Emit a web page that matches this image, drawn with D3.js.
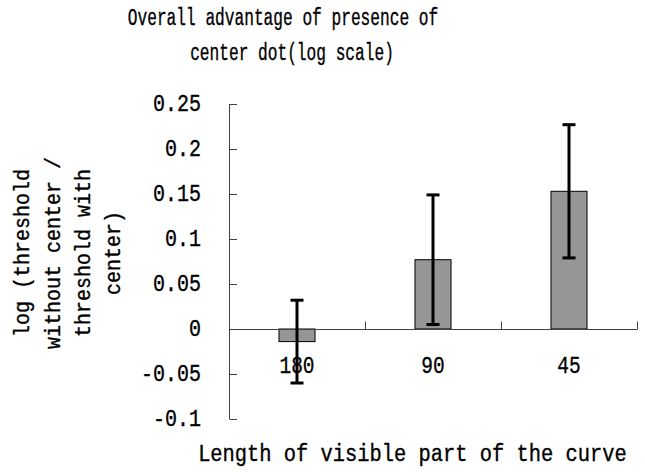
<!DOCTYPE html>
<html>
<head>
<meta charset="utf-8">
<script src="https://cdn.jsdelivr.net/npm/d3@7"></script>
<style>
  body { margin: 0; background: #fff; }
  text { font-family: "Liberation Mono", "DejaVu Sans Mono", monospace; fill: #000; stroke: #000; stroke-width: 0.35px; }
</style>
</head>
<body>
<div id="chart"></div>
<script>
// data
var categories = ["180", "90", "45"];
var means = [-0.014, 0.077, 0.153];
var errors = [0.046, 0.072, 0.074];
var yTicks = [-0.1, -0.05, 0, 0.05, 0.1, 0.15, 0.2, 0.25];
var yTickLabels = ["-0.1", "-0.05", "0", "0.05", "0.1", "0.15", "0.2", "0.25"];
var titleLines = ["Overall advantage of presence of", "center dot(log scale)"];
var yLabelLines = ["log (threshold", "without center /", "threshold with", "center)"];
var xLabel = "Length of visible part of the curve";

var width = 645;
var height = 472;

var svg = d3
  .select("#chart")
  .append("svg")
  .attr("width", width)
  .attr("height", height);

svg.append("rect").attr("width", width).attr("height", height).attr("fill", "#fff");

// scales
var yScale = d3.scaleLinear().domain([-0.1, 0.25]).range([419, 104]);
var xScale = d3.scaleBand().domain(categories).range([229, 637]);
var barW = xScale.bandwidth() * 0.265;

// fixed width text squeezed to the width of the original font
function addText(parent, str, x, y, size, charW, anchor) {
  return parent
    .append("text")
    .attr("x", x)
    .attr("y", y)
    .style("font-size", size + "px")
    .style("text-anchor", anchor || "middle")
    .attr("textLength", str.length * charW)
    .attr("lengthAdjust", "spacingAndGlyphs")
    .text(str);
}

// bars
var rows = categories.map((c, i) => ({ cat: c, v: means[i], e: errors[i] }));

svg
  .selectAll(".bar")
  .data(rows)
  .enter()
  .append("rect")
  .attr("class", "bar")
  .attr("x", (d) => xScale(d.cat) + xScale.bandwidth() / 2 - barW / 2)
  .attr("y", (d) => yScale(Math.max(0, d.v)))
  .attr("width", barW)
  .attr("height", (d) => Math.abs(yScale(d.v) - yScale(0)))
  .attr("fill", "#969696")
  .attr("stroke", "#000")
  .attr("stroke-width", 1);

// y axis (ticks point inward)
svg
  .append("line")
  .attr("x1", 229.5).attr("x2", 229.5)
  .attr("y1", yScale(0.25)).attr("y2", yScale(-0.1))
  .attr("stroke", "#404040");

svg
  .selectAll(".ytick")
  .data(yTicks)
  .enter()
  .append("line")
  .attr("class", "ytick")
  .attr("x1", 229.5).attr("x2", 237)
  .attr("y1", (d) => Math.round(yScale(d)) + 0.5)
  .attr("y2", (d) => Math.round(yScale(d)) + 0.5)
  .attr("stroke", "#404040");

yTicks.forEach(function (t, i) {
  addText(svg, yTickLabels[i], 201, yScale(t) + 7, 23, 12, "end");
});

// x axis along zero, ticks at band edges pointing up
var y0 = Math.round(yScale(0)) + 0.5;
svg
  .append("line")
  .attr("x1", 229).attr("x2", 637)
  .attr("y1", y0).attr("y2", y0)
  .attr("stroke", "#404040");

svg
  .selectAll(".xtick")
  .data(categories)
  .enter()
  .append("line")
  .attr("class", "xtick")
  .attr("x1", (d) => Math.round(xScale(d) + xScale.bandwidth()) + 0.5)
  .attr("x2", (d) => Math.round(xScale(d) + xScale.bandwidth()) + 0.5)
  .attr("y1", y0).attr("y2", y0 - 8)
  .attr("stroke", "#404040");

// error bars
var err = svg.selectAll(".err").data(rows).enter().append("g").attr("class", "err");
err
  .append("line")
  .attr("x1", (d) => xScale(d.cat) + xScale.bandwidth() / 2)
  .attr("x2", (d) => xScale(d.cat) + xScale.bandwidth() / 2)
  .attr("y1", (d) => yScale(d.v + d.e))
  .attr("y2", (d) => yScale(d.v - d.e))
  .attr("stroke", "#000")
  .attr("stroke-width", 3);
[1, -1].forEach(function (s) {
  err
    .append("line")
    .attr("x1", (d) => xScale(d.cat) + xScale.bandwidth() / 2 - 6.5)
    .attr("x2", (d) => xScale(d.cat) + xScale.bandwidth() / 2 + 6.5)
    .attr("y1", (d) => yScale(d.v + s * d.e))
    .attr("y2", (d) => yScale(d.v + s * d.e))
    .attr("stroke", "#000")
    .attr("stroke-width", 3);
});

// category labels
categories.forEach(function (c) {
  addText(svg, c, xScale(c) + xScale.bandwidth() / 2, 373, 24, 11.7);
});

// title
addText(svg, titleLines[0], 283, 25, 23, 9.7);
addText(svg, titleLines[1], 292, 60, 23, 9.7);

// x label
addText(svg, xLabel, 412.5, 461, 23, 12.25);

// y label (rotated, four lines)
var yLabelX = [29, 60, 90, 120];
yLabelLines.forEach(function (s, i) {
  addText(svg, s, 0, 0, 22, 12).attr("transform", "translate(" + yLabelX[i] + ",253) rotate(-90)");
});
</script>
</body>
</html>
